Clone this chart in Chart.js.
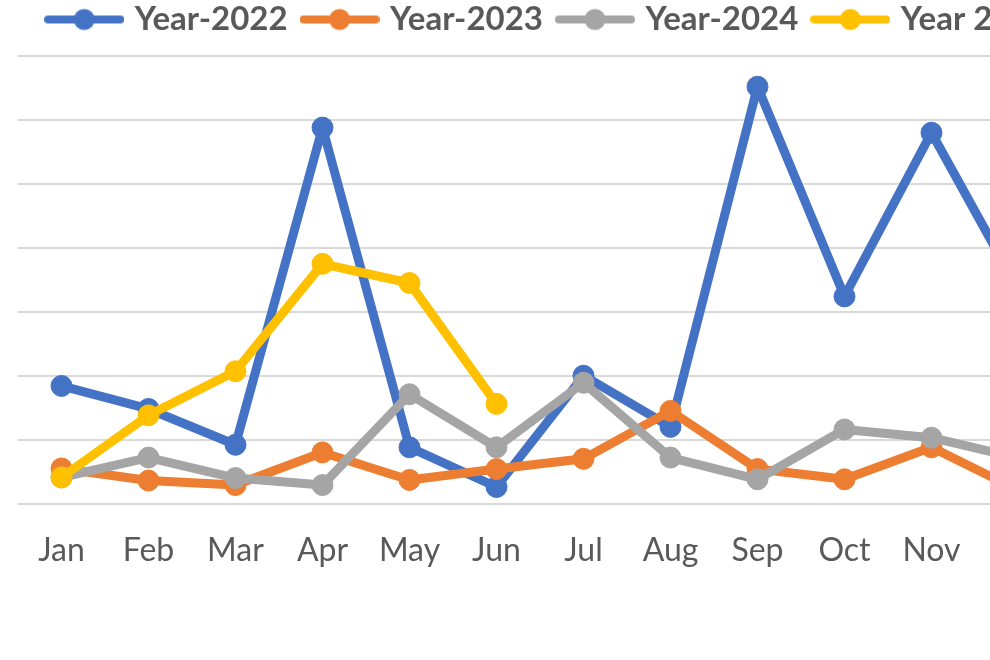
<!DOCTYPE html>
<html>
<head>
<meta charset="utf-8">
<script src="https://cdn.jsdelivr.net/npm/chart.js@4"></script>
<style>
  html, body { margin: 0; padding: 0; background: #fff; overflow: hidden; }
  body { width: 990px; height: 660px; position: relative; }
  #wrap { position: absolute; left: 0; top: -15px; width: 1082px; height: 675px; }
</style>
</head>
<body>
<div id="wrap"><canvas id="chart"></canvas></div>
<script>
// values (one grid step = 50)
const months = ['Jan', 'Feb', 'Mar', 'Apr', 'May', 'Jun', 'Jul', 'Aug', 'Sep', 'Oct', 'Nov', 'Dec'];
const seriesNames = ['Year-2022', 'Year-2023', 'Year-2024', 'Year 2025'];
const year2022 = [92, 74, 46, 294, 44, 13, 100, 60, 326, 162, 290, 167];
const year2023 = [27.5, 18, 14.5, 40, 18.5, 27, 35, 72.5, 27, 19, 44, 10.5];
const year2024 = [20.5, 36, 20, 14.5, 85.5, 44, 94.5, 36, 19, 58, 51.5, 35.5];
const year2025 = [20.5, 69, 103.5, 187.5, 172.5, 78];
const yTicks = [0, 50, 100, 150, 200, 250, 300, 350];

const colors = ['#4472C4', '#ED7D31', '#A5A5A5', '#FFC000'];
const textColor = '#595959';
const fontFamily = 'Lato, "Open Sans", sans-serif';

// legend symbol: short line with a dot in the middle, like Excel
function legendSymbol(color) {
  const c = document.createElement('canvas');
  c.width = 80;
  c.height = 24;
  const g = c.getContext('2d');
  g.strokeStyle = color;
  g.lineWidth = 8;
  g.lineCap = 'round';
  g.beginPath();
  g.moveTo(4, 12);
  g.lineTo(76, 12);
  g.stroke();
  g.fillStyle = color;
  g.beginPath();
  g.arc(40, 12, 10.5, 0, Math.PI * 2);
  g.fill();
  return c;
}
const symbols = colors.map(legendSymbol);

function makeSet(i, values) {
  return {
    label: seriesNames[i],
    data: values,
    borderColor: colors[i],
    backgroundColor: colors[i],
    borderWidth: 9,
    borderJoinStyle: 'round',
    borderCapStyle: 'round',
    pointRadius: 10.5,
    pointHoverRadius: 10.5,
    pointBorderWidth: 1,
    pointBackgroundColor: colors[i],
    pointBorderColor: colors[i],
    tension: 0,
    fill: false,
    order: 4 - i
  };
}

// extra space between legend and plot
const legendGap = {
  id: 'legendGap',
  beforeInit(chart) {
    const origFit = chart.legend.fit;
    chart.legend.fit = function () {
      origFit.bind(chart.legend)();
      this.height += 10;
    };
  }
};

new Chart(document.getElementById('chart'), {
  type: 'line',
  data: {
    labels: months,
    datasets: [
      makeSet(0, year2022),
      makeSet(1, year2023),
      makeSet(2, year2024),
      makeSet(3, year2025)
    ]
  },
  options: {
    responsive: true,
    maintainAspectRatio: false,
    animation: false,
    layout: { padding: { left: 18, right: 0, top: 0, bottom: 70 } },
    plugins: {
      tooltip: { enabled: false },
      legend: {
        display: true,
        position: 'top',
        labels: {
          usePointStyle: true,
          pointStyleWidth: 68,
          padding: 18,
          color: textColor,
          font: { family: fontFamily, size: 33, weight: 'bold' },
          sort: (a, b) => a.datasetIndex - b.datasetIndex,
          generateLabels(chart) {
            const items = Chart.defaults.plugins.legend.labels.generateLabels(chart);
            items.forEach(it => { it.pointStyle = symbols[it.datasetIndex]; });
            return items;
          }
        }
      }
    },
    scales: {
      x: {
        offset: true,
        grid: { display: false },
        border: { display: false },
        ticks: {
          color: textColor,
          padding: 20,
          font: { family: fontFamily, size: 32 }
        }
      },
      y: {
        position: 'right',
        min: 0,
        max: 350,
        afterFit(scale) { scale.width = 20; },
        afterBuildTicks(scale) { scale.ticks = yTicks.map(v => ({ value: v })); },
        grid: { color: '#D9D9D9', lineWidth: 2, drawTicks: false },
        border: { display: false },
        ticks: { display: false }
      }
    }
  },
  plugins: [legendGap]
});
</script>
</body>
</html>
